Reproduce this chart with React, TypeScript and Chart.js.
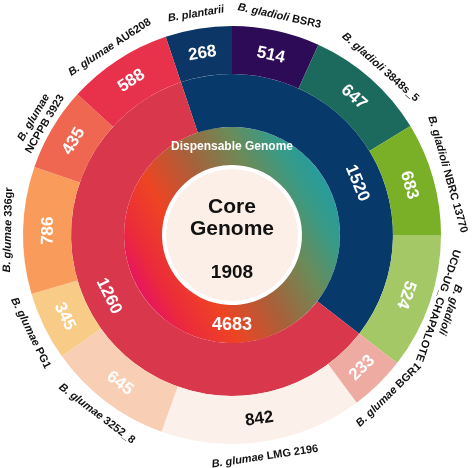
import React, { useEffect, useRef } from "react";
import { Chart, registerables } from "chart.js";

Chart.register(...registerables);

// ---- data ----
const strainSpecies = ["B. plantarii", "B. gladioli", "B. gladioli", "B. gladioli", "B. gladioli", "B. glumae", "B. glumae", "B. glumae", "B. glumae", "B. glumae", "B. glumae", "B. glumae"];
const strainNames = ["", "BSR3", "3848s_5", "NBRC 13770", "UCD-UG_CHAPALOTE", "BGR1", "LMG 2196", "3252_8", "PG1", "336gr", "NCPPB 3923", "AU6208"];
const strainTwoLine = [false, false, false, false, true, false, false, false, false, false, true, false];
const strainGenes = [268, 514, 647, 683, 524, 233, 842, 645, 345, 786, 435, 588];
// angular size of each outer segment as drawn in the figure (degrees)
const strainArcDegrees = [18.5, 24.4, 34.2, 31.4, 37.8, 15.6, 56.3, 34.8, 19.1, 35.4, 23.3, 29.2];
const strainColors = ["#0c3665", "#2d0b56", "#1b6a5d", "#79b027", "#a4c866", "#eeaba2", "#fcf0ea", "#f8cfb4", "#f8cb87", "#f99c5b", "#ef6751", "#e8314a"];
const strainTextColors = ["#fff", "#fff", "#fff", "#fff", "#fff", "#fff", "#111", "#fff", "#fff", "#fff", "#fff", "#fff"];

const cladeGenes = [1520, 1260];
const cladeArcDegrees = [146.3, 213.7];
const cladeColors = ["#073a6b", "#d9374b"];
// where the clade number sits, as angle from top (degrees)
const cladeLabelAngles = [67.5, 243.6];

const dispensableLabel = "Dispensable Genome";
const dispensableGenes = 4683;
const coreLabel = ["Core", "Genome"];
const coreGenes = 1908;

const FONT = '"Liberation Sans", Arial, sans-serif';

function textRotation(degFromTop: number) {
  let d = ((degFromTop % 360) + 360) % 360;
  if (d <= 120) return d;
  if (d < 260) return d - 180;
  return d - 360;
}

const labelPlugin = {
  id: "sunLabels",
  afterDatasetsDraw(chart: any) {
    const ctx = chart.ctx;
    ctx.save();
    ctx.textAlign = "center";
    ctx.textBaseline = "middle";

    const outer = chart.getDatasetMeta(0).data;
    outer.forEach((arc: any, i: number) => {
      const p = arc.getProps(["x", "y", "startAngle", "endAngle", "innerRadius", "outerRadius"], true);
      const mid = (p.startAngle + p.endAngle) / 2;
      const deg = (mid * 180) / Math.PI + 90;
      const rot = (textRotation(deg) * Math.PI) / 180;
      const rn = (p.innerRadius + p.outerRadius) / 2;
      ctx.save();
      ctx.translate(p.x + Math.cos(mid) * rn, p.y + Math.sin(mid) * rn);
      ctx.rotate(rot);
      ctx.fillStyle = strainTextColors[i];
      ctx.font = "bold 17px " + FONT;
      ctx.fillText(String(strainGenes[i]), 0, 1);
      ctx.restore();

      // strain label outside
      const rl = p.outerRadius + 15;
      ctx.save();
      ctx.translate(p.x + Math.cos(mid) * rl, p.y + Math.sin(mid) * rl);
      ctx.rotate(rot);
      ctx.fillStyle = "#111";
      const it = "italic bold 11px " + FONT;
      const bd = "bold 11px " + FONT;
      const sp = strainSpecies[i];
      const nm = strainNames[i];
      const upX = Math.sin(rot), upY = -Math.cos(rot);
      const outward = upX * Math.cos(mid) + upY * Math.sin(mid) > 0;
      if (strainTwoLine[i]) {
        const l1 = outward ? -6.5 : 6.5;
        ctx.font = it;
        ctx.fillText(sp, 0, l1);
        ctx.font = bd;
        ctx.fillText(nm, 0, -l1);
      } else {
        ctx.font = it;
        const w1 = ctx.measureText(nm ? sp + " " : sp).width;
        ctx.font = bd;
        const w2 = nm ? ctx.measureText(nm).width : 0;
        const start = -(w1 + w2) / 2;
        ctx.textAlign = "left";
        ctx.font = it;
        ctx.fillText(nm ? sp + " " : sp, start, 0);
        if (nm) {
          ctx.font = bd;
          ctx.fillText(nm, start + w1, 0);
        }
        ctx.textAlign = "center";
      }
      ctx.restore();
    });

    const middle = chart.getDatasetMeta(1).data;
    middle.forEach((arc: any, i: number) => {
      const p = arc.getProps(["x", "y", "innerRadius", "outerRadius"], true);
      const deg = cladeLabelAngles[i];
      const mid = ((deg - 90) * Math.PI) / 180;
      const rot = (textRotation(deg) * Math.PI) / 180;
      const rn = (p.innerRadius + p.outerRadius) / 2 + 2;
      ctx.save();
      ctx.translate(p.x + Math.cos(mid) * rn, p.y + Math.sin(mid) * rn);
      ctx.rotate(rot);
      ctx.fillStyle = "#fff";
      ctx.font = "bold 17px " + FONT;
      ctx.fillText(String(cladeGenes[i]), 0, 1);
      ctx.restore();
    });

    const g = chart.getDatasetMeta(2).data[0];
    const gp = g.getProps(["x", "y", "innerRadius", "outerRadius"], true);
    const gr = (gp.innerRadius + gp.outerRadius) / 2;
    ctx.fillStyle = "#fff";
    ctx.font = "bold 12px " + FONT;
    ctx.fillText(dispensableLabel, gp.x, gp.y - gr + 1);
    ctx.font = "bold 18px " + FONT;
    ctx.fillText(String(dispensableGenes), gp.x, gp.y + gr + 1);

    const c = chart.getDatasetMeta(4).data[0];
    const cp = c.getProps(["x", "y"], true);
    ctx.fillStyle = "#111";
    ctx.font = "bold 21px " + FONT;
    ctx.fillText(coreLabel[0], cp.x, cp.y - 28);
    ctx.fillText(coreLabel[1], cp.x, cp.y - 6);
    ctx.font = "bold 19px " + FONT;
    ctx.fillText(String(coreGenes), cp.x, cp.y + 38);
    ctx.restore();
  },
};

function gradientFill(context: any) {
  const chart = context.chart;
  const area = chart.chartArea;
  if (!area) return "#a0603a";
  const cx = (area.left + area.right) / 2;
  const cy = (area.top + area.bottom) / 2;
  const a = (60 * Math.PI) / 180;
  const dx = Math.sin(a) * 108, dy = -Math.cos(a) * 108;
  const grad = chart.ctx.createLinearGradient(cx - dx, cy - dy, cx + dx, cy + dy);
  grad.addColorStop(0, "#e6165e");
  grad.addColorStop(0.1, "#eb2a3c");
  grad.addColorStop(0.28, "#ee4423");
  grad.addColorStop(0.5, "#a9603a");
  grad.addColorStop(0.72, "#6c8a58");
  grad.addColorStop(0.88, "#3a9a84");
  grad.addColorStop(1, "#269c9e");
  return grad;
}

export default function App() {
  const ref = useRef<HTMLCanvasElement | null>(null);
  useEffect(() => {
    if (!ref.current) return;
    const chart = new Chart(ref.current, {
      type: "doughnut",
      data: {
        labels: strainNames,
        datasets: [
          { data: strainArcDegrees, backgroundColor: strainColors, borderWidth: 0, weight: 48 },
          { data: cladeArcDegrees, backgroundColor: cladeColors, borderWidth: 0, weight: 53 },
          { data: [dispensableGenes], backgroundColor: gradientFill, borderWidth: 0, weight: 38 },
          { data: [1], backgroundColor: "#ffffff", borderWidth: 0, weight: 4 },
          { data: [coreGenes], backgroundColor: "#fbefe8", borderWidth: 0, weight: 66 },
        ],
      } as any,
      options: {
        responsive: false,
        animation: false,
        rotation: -18.5,
        cutout: 0,
        layout: { padding: { left: 23, right: 31, top: 26, bottom: 24 } },
        plugins: { legend: { display: false }, tooltip: { enabled: false } },
        events: [],
      } as any,
      plugins: [labelPlugin],
    });
    return () => chart.destroy();
  }, []);
  return (
    <div style={{ position: "fixed", left: 0, top: 0, width: 472, height: 468, background: "#fff" }}>
      <canvas ref={ref} width={472} height={468} style={{ display: "block" }} />
    </div>
  );
}
